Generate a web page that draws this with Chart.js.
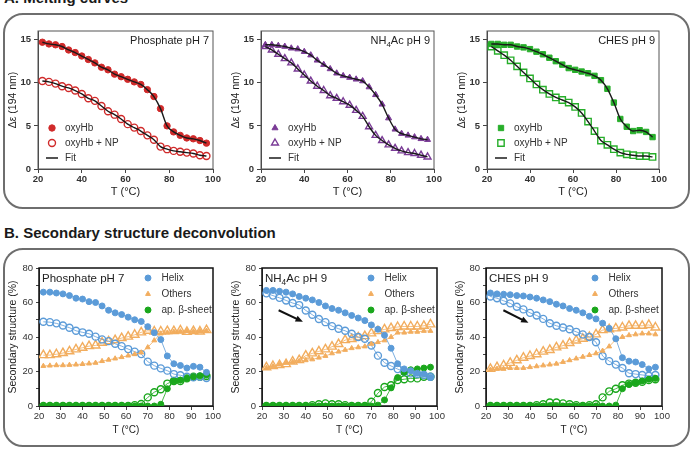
<!DOCTYPE html>
<html>
<head>
<meta charset="utf-8">
<script src="https://cdn.jsdelivr.net/npm/chart.js@4.4.1/dist/chart.umd.min.js"></script>
<style>
  body { margin: 0; background: #fff; width: 693px; height: 451px; position: relative; overflow: hidden;
         font-family: "Liberation Sans", Arial, sans-serif; }
  .box { position: absolute; box-sizing: border-box; border: 2px solid #6e6e6e; border-radius: 20px; }
  .title { position: absolute; left: 4px; font-size: 15px; line-height: 16px; font-weight: bold; color: #1a1a1a; white-space: nowrap; }
  canvas { position: absolute; }
</style>
</head>
<body>
<div class="box" style="left:3px;top:13px;width:687px;height:196px"></div>
<div class="box" style="left:3px;top:248px;width:687px;height:199px"></div>
<div class="title" style="top:-10px">A. Melting curves</div>
<div class="title" style="top:225px">B. Secondary structure deconvolution</div>

<canvas id="a1" width="223" height="196" style="left:2px;top:13px"></canvas>
<canvas id="a2" width="221" height="196" style="left:225px;top:13px"></canvas>
<canvas id="a3" width="220" height="196" style="left:451px;top:13px"></canvas>
<canvas id="b1" width="222" height="198" style="left:3px;top:250px"></canvas>
<canvas id="b2" width="223" height="198" style="left:226px;top:250px"></canvas>
<canvas id="b3" width="224" height="198" style="left:450px;top:250px"></canvas>

<script>
// temperatures, same for every panel
const temps = [22, 25, 28, 31, 34, 37, 40, 43, 46, 49, 52, 55, 58, 61, 64, 67, 70, 73, 76, 79, 82, 85, 88, 91, 94, 97];

// A. melting curves, delta epsilon at 194 nm
const phosOxy = [14.7, 14.5, 14.4, 14.2, 13.8, 13.5, 13.1, 12.7, 12.3, 11.8, 11.5, 11.0, 10.7, 10.4, 10.1, 9.8, 9.2, 8.4, 7.0, 5.0, 4.3, 3.9, 3.6, 3.5, 3.3, 3.0];
const phosNP = [10.2, 10.1, 9.9, 9.6, 9.4, 9.1, 8.7, 8.2, 7.9, 7.3, 6.7, 6.3, 5.8, 5.2, 4.8, 4.4, 3.9, 3.4, 2.6, 2.3, 2.1, 2.0, 1.9, 1.8, 1.6, 1.5];
const nh4Oxy = [14.4, 14.4, 14.3, 14.2, 14.0, 13.9, 13.6, 13.2, 12.6, 12.1, 11.6, 11.1, 10.8, 10.6, 10.4, 10.2, 9.5, 8.6, 7.5, 5.9, 4.6, 4.1, 3.9, 3.7, 3.5, 3.4];
const nh4NP = [14.2, 13.8, 13.3, 12.8, 12.3, 11.6, 10.9, 10.2, 9.6, 9.1, 8.5, 8.2, 7.8, 7.4, 6.8, 6.1, 4.9, 3.9, 3.3, 2.8, 2.4, 2.1, 1.9, 1.8, 1.6, 1.4];
const chesOxy = [14.5, 14.5, 14.4, 14.4, 14.2, 14.1, 13.9, 13.6, 13.3, 12.9, 12.5, 12.1, 11.7, 11.5, 11.3, 11.1, 10.8, 10.3, 9.3, 7.7, 5.8, 4.9, 4.4, 4.5, 4.3, 3.7];
const chesNP = [14.2, 13.7, 13.2, 12.6, 11.9, 11.2, 10.5, 9.8, 9.2, 8.7, 8.3, 8.0, 7.7, 7.2, 6.5, 5.5, 4.4, 3.3, 2.8, 2.3, 1.9, 1.7, 1.6, 1.5, 1.5, 1.4];

// B. secondary structure (%), filled = oxyHb, open = oxyHb + NP
const phosHelix = [66, 66, 65.5, 65, 64, 62.5, 62, 60.5, 60, 58, 55.5, 54, 53, 51.5, 50, 49, 46, 42.5, 38.5, 29, 24.5, 23.5, 22, 23, 22.5, 19.5];
const phosHelixNP = [48.8, 48.6, 47.9, 46.7, 45.4, 43.6, 42.7, 41.9, 40.2, 38.6, 37.6, 36.1, 34.7, 33.0, 31.5, 30.1, 25.7, 23.4, 21.8, 20.5, 18.5, 17.8, 17.0, 16.6, 17.0, 16.2];
const phosOthers = [23.2, 23.4, 23.6, 23.6, 23.8, 24, 24.3, 24.6, 25, 26, 26.8, 27.5, 28.3, 29.2, 30, 31, 34, 38, 42, 42.5, 43, 43.2, 43.4, 43.2, 43.4, 43.6];
const phosOthersNP = [29.5, 29.5, 30, 30.7, 31.7, 32.8, 33.8, 34.7, 35.1, 36.7, 37.5, 38.2, 39.4, 40.2, 41.3, 42.7, 43.6, 43.2, 43.2, 43.4, 43.4, 43.8, 43, 43.4, 43.2, 44];
const phosSheet = [0, 0, 0, 0, 0, 0, 0, 0, 0, 0, 0, 0, 0, 0, 0, 0, 0, 0, 1, 10, 14.5, 15, 16, 17, 17.5, 18];
const phosSheetNP = [0, 0, 0, 0, 0, 0, 0, 0, 0, 0, 0, 0, 0, 0, 0.5, 1.2, 5, 8, 9.7, 13, 14.5, 14.5, 16, 17, 17, 17.4];

const nh4Helix = [67, 67, 66.5, 66, 65, 63.5, 62.5, 61.5, 60, 58, 56.5, 55.5, 54, 52.5, 51, 49.5, 47, 44.5, 41, 33.5, 24.5, 21.5, 20.5, 19, 18.5, 16.5];
const nh4HelixNP = [65.3, 64, 62.7, 61.2, 59.7, 58.5, 55.4, 52.9, 50.4, 48.6, 46.3, 44.8, 43.6, 41.9, 40, 39, 35.1, 29.2, 25.1, 23.2, 21.4, 19.9, 18.9, 18.5, 18, 17];
const nh4Others = [22, 23, 24, 25, 25.5, 26, 26.5, 27, 28, 29, 30.5, 31.5, 32.5, 33.5, 34, 34.5, 36, 37, 38, 40, 42.5, 42.5, 43, 43, 43.5, 43.5];
const nh4OthersNP = [22.4, 23.2, 23.7, 24.3, 25.7, 26.6, 29.2, 30.5, 31.7, 32.8, 34.4, 35.9, 38.2, 38.8, 39.8, 40.5, 42.1, 43.4, 44.4, 45.2, 45.8, 46.1, 46.1, 46.1, 46.5, 47.3];
const nh4Sheet = [0, 0, 0, 0, 0, 0, 0, 0, 0, 0, 0, 0, 0, 0, 0, 0, 0, 0.5, 3.5, 10.5, 16.5, 19.5, 21, 21.5, 22, 22.5];
const nh4SheetNP = [0, 0, 0, 0, 0, 0, 0, 0.5, 1, 1.5, 1, 1, 0.5, 0, 0, 0, 2.5, 7.5, 11, 12, 15, 15.5, 16, 16, 17, 17];

const chesHelix = [65.5, 65, 64.8, 64.5, 64, 63.8, 63.2, 62.5, 61.5, 60.5, 59, 58, 56.5, 55.5, 54, 52, 50.5, 48, 45, 39, 28, 26, 25.5, 24, 21.5, 22.5];
const chesHelixNP = [63.5, 62.5, 61, 59.5, 57.5, 56, 54, 52.5, 50.5, 48, 46.5, 45.5, 44.5, 43, 41.5, 40, 37, 29, 26, 24, 22, 19, 18.5, 18, 17.5, 18];
const chesOthers = [21, 21.5, 21.5, 22, 22, 22, 22.5, 23, 23.5, 24, 24.5, 25.5, 26.5, 27.5, 28.5, 29.5, 30.5, 32, 34.5, 38.5, 40, 41, 41.5, 42, 42, 41.5];
const chesOthersNP = [21.5, 22.5, 23.5, 25, 26.5, 28, 29, 30, 31.5, 32.5, 34, 35, 36.5, 38, 39, 40, 41.5, 44, 44.5, 45, 45.5, 46.5, 46.5, 46.5, 47, 45.5];
const chesSheet = [0, 0, 0, 0, 0, 0, 0, 0, 0, 0, 0, 0, 0, 0, 0, 0, 0, 0, 0, 0.5, 10, 12.5, 13.5, 14.5, 15.5, 16];
const chesSheetNP = [0, 0, 0, 0, 0, 0, 0, 0.5, 1, 2, 2, 1.5, 1, 0.5, 0, 0.5, 1, 5, 8.5, 10, 12, 13, 13.5, 14, 15, 15.5];

const FONT = '"Liberation Sans", Arial, sans-serif';
Chart.defaults.font.family = FONT;

const RED = '#d02a2a', PURPLE = '#7a3b96', GREEN_A = '#27ae2a';
const BLUE = '#5b9bd8', ORANGE = '#f2ad5e', GREEN_B = '#1aa71c';

const pts = vals => temps.map((t, i) => ({ x: t, y: vals[i] }));

function marks(vals, color, style, r, open, line) {
  return {
    data: pts(vals),
    pointStyle: style, pointRadius: r, pointHoverRadius: r,
    pointBackgroundColor: open ? 'rgba(0,0,0,0)' : color,
    pointBorderColor: color, pointBorderWidth: open ? 1.4 : 1,
    borderColor: color, borderWidth: line || 0, showLine: !!line, order: 1
  };
}
function fit(vals) {
  return { data: pts(vals), showLine: true, pointRadius: 0, borderColor: '#1a1a1a', borderWidth: 1.4,
           cubicInterpolationMode: 'monotone', order: 0 };
}

// frame, panel name, in-plot legend and arrows
const decoPlugin = {
  id: 'deco',
  beforeDatasetsDraw(chart, args, o) {
    const a = chart.chartArea, ctx = chart.ctx;
    ctx.save();
    ctx.strokeStyle = o.frame;
    ctx.lineWidth = o.frameWidth;
    ctx.strokeRect(a.left, a.top, a.right - a.left, a.bottom - a.top);
    ctx.restore();
  },
  afterDatasetsDraw(chart, args, o) {
    const a = chart.chartArea, ctx = chart.ctx;
    ctx.save();
    ctx.fillStyle = '#222';
    ctx.textBaseline = 'alphabetic';
    const big = o.nameSize + 'px ' + FONT, small = (o.nameSize * 0.72) + 'px ' + FONT;
    let w = 0;
    o.name.forEach(p => { ctx.font = p.sub ? small : big; w += ctx.measureText(p.t).width; });
    let x = o.nameRight ? a.right - o.nameX - w : a.left + o.nameX;
    const y = a.top + o.nameY;
    o.name.forEach(p => {
      ctx.font = p.sub ? small : big;
      ctx.fillText(p.t, x, p.sub ? y + 2.5 : y);
      x += ctx.measureText(p.t).width;
    });

    ctx.font = o.legendSize + 'px ' + FONT;
    ctx.textBaseline = 'middle';
    o.legend.forEach((it, i) => {
      const mx = a.left + o.legendX, my = a.top + o.legendY + i * o.legendGap;
      if (it.ds === undefined) {
        ctx.strokeStyle = '#1a1a1a';
        ctx.lineWidth = 1.5;
        ctx.beginPath();
        ctx.moveTo(mx - 6, my);
        ctx.lineTo(mx + 6, my);
        ctx.stroke();
      } else {
        const d = chart.data.datasets[it.ds];
        ctx.fillStyle = d.pointBackgroundColor;
        ctx.strokeStyle = d.pointBorderColor;
        ctx.lineWidth = d.pointBorderWidth;
        Chart.helpers.drawPoint(ctx, { pointStyle: d.pointStyle, radius: d.pointRadius, rotation: 0, borderWidth: d.pointBorderWidth }, mx, my);
      }
      ctx.fillStyle = '#333';
      ctx.fillText(it.text, a.left + o.textX, my);
    });

    (o.arrows || []).forEach(ar => {
      const sx = chart.scales.x, sy = chart.scales.y;
      const x1 = sx.getPixelForValue(ar[0]), y1 = sy.getPixelForValue(ar[1]);
      const x2 = sx.getPixelForValue(ar[2]), y2 = sy.getPixelForValue(ar[3]);
      const ang = Math.atan2(y2 - y1, x2 - x1);
      ctx.strokeStyle = '#111';
      ctx.fillStyle = '#111';
      ctx.lineWidth = 2;
      ctx.beginPath();
      ctx.moveTo(x1, y1);
      ctx.lineTo(x2 - 5 * Math.cos(ang), y2 - 5 * Math.sin(ang));
      ctx.stroke();
      ctx.beginPath();
      ctx.moveTo(x2, y2);
      ctx.lineTo(x2 - 8 * Math.cos(ang - 0.4), y2 - 8 * Math.sin(ang - 0.4));
      ctx.lineTo(x2 - 8 * Math.cos(ang + 0.4), y2 - 8 * Math.sin(ang + 0.4));
      ctx.closePath();
      ctx.fill();
    });
    ctx.restore();
  }
};

function makeChart(id, kind, datasets, deco) {
  const isA = kind === 'A';
  return new Chart(document.getElementById(id), {
    type: 'scatter',
    data: { datasets },
    options: {
      responsive: false, animation: false, devicePixelRatio: 1,
      layout: { padding: { top: 18, right: 12, left: 0, bottom: 0 } },
      plugins: { legend: { display: false }, tooltip: { enabled: false }, deco },
      scales: {
        x: {
          type: 'linear', min: 20, max: 100,
          ticks: { stepSize: isA ? 20 : 10, color: '#333', padding: 1, maxRotation: 0, autoSkip: false,
                   font: { size: 9.5, weight: isA ? 'bold' : 'normal' } },
          grid: { drawOnChartArea: false, tickLength: 4, color: '#444' },
          border: { color: '#444', width: 1 },
          title: { display: true, text: 'T (°C)', color: '#222', font: { size: isA ? 11 : 10 },
                   padding: { top: 0, bottom: isA ? 10 : 12 } },
          afterFit: s => { s.height = isA ? 40 : 42; }
        },
        y: {
          min: 0, max: isA ? 16 : 80,
          ticks: {
            stepSize: isA ? 5 : 10, includeBounds: false, autoSkip: false, color: '#333', padding: 3,
            font: { size: 9.5, weight: isA ? 'bold' : 'normal' },
            callback: v => (isA || v % 20 === 0) ? v : ''
          },
          grid: { drawOnChartArea: false, tickLength: isA ? 4 : 3, color: '#444' },
          border: { color: '#444', width: 1 },
          title: { display: true, text: isA ? 'Δε (194 nm)' : 'Secondary structure (%)', color: '#222',
                   font: { size: 10.5 }, padding: { top: isA ? 4.5 : 3.5, bottom: 0 } },
          afterFit: s => { s.width = 36; }
        }
      }
    },
    plugins: [decoPlugin]
  });
}

const legendA = {
  frame: '#555', frameWidth: 1, nameSize: 11, nameRight: true, nameX: 4, nameY: 13,
  legendSize: 10, legendX: 14, textX: 27, legendY: 97, legendGap: 15,
  legend: [{ ds: 1, text: 'oxyHb' }, { ds: 2, text: 'oxyHb + NP' }, { text: 'Fit' }]
};

makeChart('a1', 'A', [fit(phosOxy), marks(phosOxy, RED, 'circle', 3.2, false), marks(phosNP, RED, 'circle', 3.5, true), fit(phosNP)],
  Object.assign({}, legendA, { name: [{ t: 'Phosphate pH 7' }] }));
makeChart('a2', 'A', [fit(nh4Oxy), marks(nh4Oxy, PURPLE, 'triangle', 3.5, false), marks(nh4NP, PURPLE, 'triangle', 4, true), fit(nh4NP)],
  Object.assign({}, legendA, { name: [{ t: 'NH' }, { t: '4', sub: true }, { t: 'Ac pH 9' }] }));
makeChart('a3', 'A', [fit(chesOxy), marks(chesOxy, GREEN_A, 'rect', 3.8, false), marks(chesNP, GREEN_A, 'rect', 4.5, true), fit(chesNP)],
  Object.assign({}, legendA, { name: [{ t: 'CHES pH 9' }] }));

function structSets(helix, helixNP, others, othersNP, sheet, sheetNP) {
  return [
    marks(helix, BLUE, 'circle', 3, false, 0.8),
    marks(others, ORANGE, 'triangle', 2.8, false, 0.8),
    marks(sheet, GREEN_B, 'circle', 3, false, 0.8),
    marks(helixNP, BLUE, 'circle', 3.5, true, 0.8),
    marks(othersNP, ORANGE, 'triangle', 5, true, 0.8),
    marks(sheetNP, GREEN_B, 'circle', 3.5, true, 0.8)
  ];
}
const legendB = {
  frame: '#111', frameWidth: 1.5, nameSize: 11.5, nameRight: false, nameX: 3, nameY: 14,
  legendSize: 10, legendX: 109, textX: 122.5, legendY: 10, legendGap: 16,
  legend: [{ ds: 0, text: 'Helix' }, { ds: 1, text: 'Others' }, { ds: 2, text: 'ap. β-sheet' }]
};

makeChart('b1', 'B', structSets(phosHelix, phosHelixNP, phosOthers, phosOthersNP, phosSheet, phosSheetNP),
  Object.assign({}, legendB, { name: [{ t: 'Phosphate pH 7' }] }));
makeChart('b2', 'B', structSets(nh4Helix, nh4HelixNP, nh4Others, nh4OthersNP, nh4Sheet, nh4SheetNP),
  Object.assign({}, legendB, { name: [{ t: 'NH' }, { t: '4', sub: true }, { t: 'Ac pH 9' }], arrows: [[27.6, 55.5, 38.7, 48.8]] }));
makeChart('b3', 'B', structSets(chesHelix, chesHelixNP, chesOthers, chesOthersNP, chesSheet, chesSheetNP),
  Object.assign({}, legendB, { name: [{ t: 'CHES pH 9' }], arrows: [[27.9, 55.5, 39.3, 48.2]] }));
</script>
</body>
</html>
